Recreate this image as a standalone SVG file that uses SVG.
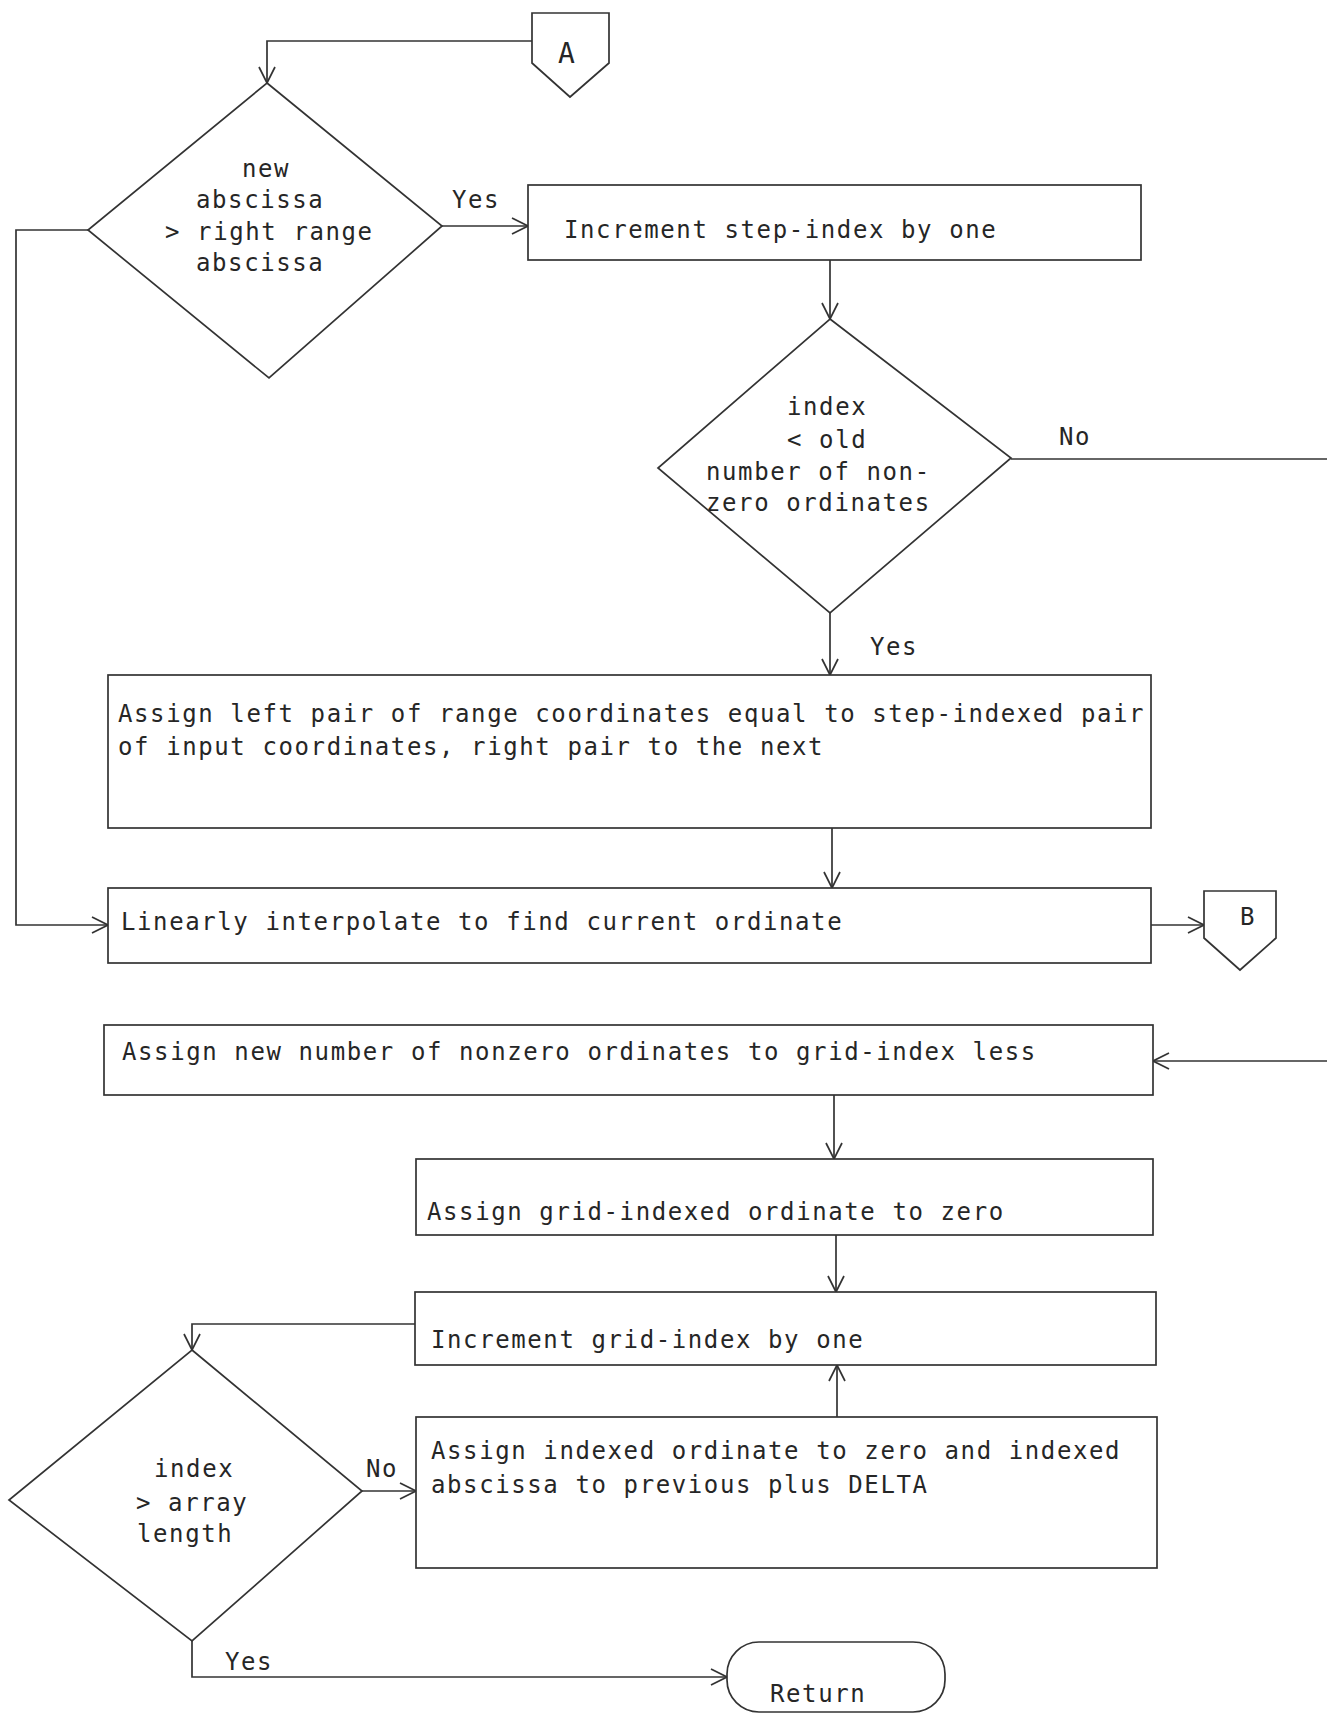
<svg xmlns="http://www.w3.org/2000/svg" width="1327" height="1714" viewBox="0 0 1327 1714">
  <style>
    .shape { fill: #ffffff; stroke: #333333; stroke-width: 1.7; }
    .wire { fill: none; stroke: #333333; stroke-width: 1.7; }
    .txt { font-family: "DejaVu Sans Mono", "Liberation Mono", monospace; font-size: 24px; letter-spacing: 1.6px; fill: #262626; }
    .big { font-family: "DejaVu Sans Mono", "Liberation Mono", monospace; font-size: 28px; fill: #262626; }
  </style>
  <defs>
    <marker id="arrow" viewBox="0 0 18 18" refX="17" refY="9" markerWidth="18" markerHeight="18" markerUnits="userSpaceOnUse" orient="auto">
      <path d="M1,1 L17,9 L1,17" fill="none" stroke="#333333" stroke-width="1.7"/>
    </marker>
  </defs>
  <rect width="1327" height="1714" fill="#ffffff"/>

  <!-- flow lines -->
  <g id="connectors">
    <path class="wire" d="M532,41 H267 V83" marker-end="url(#arrow)"/>
    <path class="wire" d="M442,226 H528" marker-end="url(#arrow)"/>
    <path class="wire" d="M830,260 V319" marker-end="url(#arrow)"/>
    <path class="wire" d="M1011,459 H1327"/>
    <path class="wire" d="M830,613 V675" marker-end="url(#arrow)"/>
    <path class="wire" d="M832,828 V888" marker-end="url(#arrow)"/>
    <path class="wire" d="M88,230 H16 V925 H108" marker-end="url(#arrow)"/>
    <path class="wire" d="M1151,925 H1204" marker-end="url(#arrow)"/>
    <path class="wire" d="M1327,1061 H1153" marker-end="url(#arrow)"/>
    <path class="wire" d="M834,1095 V1159" marker-end="url(#arrow)"/>
    <path class="wire" d="M836,1235 V1292" marker-end="url(#arrow)"/>
    <path class="wire" d="M415,1324 H192 V1350" marker-end="url(#arrow)"/>
    <path class="wire" d="M362,1491 H416" marker-end="url(#arrow)"/>
    <path class="wire" d="M837,1417 V1365" marker-end="url(#arrow)"/>
    <path class="wire" d="M192,1641 V1677 H727" marker-end="url(#arrow)"/>
    <text class="txt" x="452" y="208">Yes</text>
    <text class="txt" x="1059" y="445">No</text>
    <text class="txt" x="870" y="655">Yes</text>
    <text class="txt" x="366" y="1477">No</text>
    <text class="txt" x="225" y="1670">Yes</text>
  </g>

  <g id="connector-a">
    <polygon class="shape" points="532,13 609,13 609,63 570,97 532,63"/>
    <text class="big" x="558" y="63">A</text>
  </g>

  <g id="test-abscissa">
    <polygon class="shape" points="267,83 442,226 269,378 88,230"/>
    <text class="txt" x="242" y="177">new</text>
    <text class="txt" x="196" y="208">abscissa</text>
    <text class="txt" x="165" y="240">&gt; right range</text>
    <text class="txt" x="196" y="271">abscissa</text>
  </g>

  <g id="inc-step">
    <rect class="shape" x="528" y="185" width="613" height="75"/>
    <text class="txt" x="564" y="238">Increment step-index by one</text>
  </g>

  <g id="test-index">
    <polygon class="shape" points="830,319 1011,458 830,613 658,468"/>
    <text class="txt" x="787" y="415">index</text>
    <text class="txt" x="787" y="448">&lt; old</text>
    <text class="txt" x="706" y="480">number of non-</text>
    <text class="txt" x="706" y="511">zero ordinates</text>
  </g>

  <g id="assign-range">
    <rect class="shape" x="108" y="675" width="1043" height="153"/>
    <text class="txt" x="118" y="722">Assign left pair of range coordinates equal to step-indexed pair</text>
    <text class="txt" x="118" y="755">of input coordinates, right pair to the next</text>
  </g>

  <g id="interpolate">
    <rect class="shape" x="108" y="888" width="1043" height="75"/>
    <text class="txt" x="121" y="930">Linearly interpolate to find current ordinate</text>
  </g>

  <g id="connector-b">
    <polygon class="shape" points="1204,891 1276,891 1276,938 1240,970 1204,938"/>
    <text class="txt" x="1240" y="925">B</text>
  </g>

  <g id="assign-count">
    <rect class="shape" x="104" y="1025" width="1049" height="70"/>
    <text class="txt" x="122" y="1060">Assign new number of nonzero ordinates to grid-index less</text>
  </g>

  <g id="zero-ordinate">
    <rect class="shape" x="416" y="1159" width="737" height="76"/>
    <text class="txt" x="427" y="1220">Assign grid-indexed ordinate to zero</text>
  </g>

  <g id="inc-grid">
    <rect class="shape" x="415" y="1292" width="741" height="73"/>
    <text class="txt" x="431" y="1348">Increment grid-index by one</text>
  </g>

  <g id="test-length">
    <polygon class="shape" points="192,1350 362,1491 192,1641 9,1500"/>
    <text class="txt" x="154" y="1477">index</text>
    <text class="txt" x="136" y="1511">&gt; array</text>
    <text class="txt" x="137" y="1542">length</text>
  </g>

  <g id="fill-grid">
    <rect class="shape" x="416" y="1417" width="741" height="151"/>
    <text class="txt" x="431" y="1459">Assign indexed ordinate to zero and indexed</text>
    <text class="txt" x="431" y="1493">abscissa to previous plus DELTA</text>
  </g>

  <g id="return">
    <rect class="shape" x="727" y="1642" width="218" height="70" rx="32" ry="32"/>
    <text class="txt" x="770" y="1702">Return</text>
  </g>
</svg>
